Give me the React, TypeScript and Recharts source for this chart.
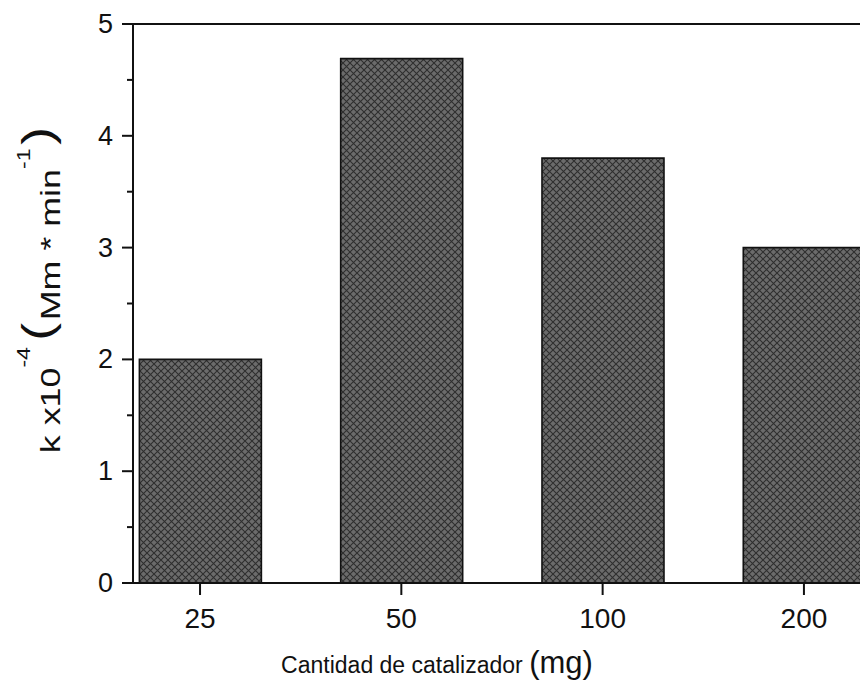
import React from "react";
import { Bar, BarChart, ReferenceLine, XAxis, YAxis } from "recharts";

const categories = ["25", "50", "100", "200"];
const kValues = [2.0, 4.69, 3.8, 3.0];
const yTicks = [0, 0.5, 1, 1.5, 2, 2.5, 3, 3.5, 4, 4.5, 5];

const data = categories.map((c, i) => ({ pos: i + 1, label: c, k: kValues[i] }));

const FONT = "'Liberation Sans', Arial, Helvetica, sans-serif";

function YTick(props: any) {
  const { x, y, payload } = props;
  const major = Number.isInteger(payload.value);
  const len = major ? 11 : 6;
  return (
    <g>
      <line x1={x - len} y1={y} x2={x} y2={y} stroke="#111" strokeWidth={2} />
      {major && (
        <text x={x - 20} y={y + 9} textAnchor="end" fontSize={27} fill="#111" fontFamily={FONT}>
          {payload.value}
        </text>
      )}
    </g>
  );
}

function XTick(props: any) {
  const { x, y, payload } = props;
  return (
    <g>
      <line x1={x} y1={y} x2={x} y2={y + 12} stroke="#111" strokeWidth={2} />
      <text x={x} y={y + 45} textAnchor="middle" fontSize={28} fill="#111" fontFamily={FONT}>
        {categories[payload.value - 1]}
      </text>
    </g>
  );
}

function YLabel() {
  return (
    <text
      transform="translate(60,290) rotate(-90) scale(1.28,1)"
      textAnchor="middle"
      fontSize={28}
      fill="#111"
      fontFamily={FONT}
    >
      <tspan>k x10</tspan>
      <tspan fontSize={18} dy={-30}>-4</tspan>
      <tspan fontSize={42} dx={5} dy={22}>(</tspan>
      <tspan fontSize={28} dx={2} dy={8}>Mm * min</tspan>
      <tspan fontSize={18} dy={-30}>-1</tspan>
      <tspan fontSize={42} dx={3} dy={22}>)</tspan>
    </text>
  );
}

function XLabel() {
  return (
    <text x={437} y={673} textAnchor="middle" fill="#111" fontFamily={FONT}>
      <tspan fontSize={23}>Cantidad de catalizador </tspan>
      <tspan fontSize={31}>(mg)</tspan>
    </text>
  );
}

export default function App() {
  return (
    <div
      style={{
        position: "absolute",
        left: 0,
        top: 0,
        width: 860,
        height: 682,
        overflow: "hidden",
        background: "#fff",
      }}
    >
      <svg width={0} height={0} style={{ position: "absolute" }}>
        <defs>
          <pattern id="hatch" width={7} height={7} patternUnits="userSpaceOnUse">
            <rect width={7} height={7} fill="#6b6b6b" />
            <path d="M0,0 L7,7 M7,0 L0,7" stroke="#2e2e2e" strokeWidth={1.1} />
          </pattern>
        </defs>
      </svg>
      <BarChart
        width={1000}
        height={682}
        data={data}
        margin={{ top: 24, right: 0, bottom: 0, left: 0 }}
      >
        <XAxis
          dataKey="pos"
          type="number"
          domain={[0.667, 4.974]}
          ticks={[1, 2, 3, 4]}
          allowDataOverflow
          height={99}
          axisLine={{ stroke: "#111", strokeWidth: 2 }}
          tickLine={false}
          tickSize={0}
          tickMargin={0}
          tick={<XTick />}
          label={{ content: () => <XLabel /> }}
        />
        <YAxis
          type="number"
          domain={[0, 5]}
          ticks={yTicks}
          interval={0}
          width={133}
          axisLine={{ stroke: "#111", strokeWidth: 2 }}
          tickLine={false}
          tickSize={0}
          tickMargin={0}
          tick={<YTick />}
          label={{ content: () => <YLabel /> }}
        />
        <ReferenceLine y={5} stroke="#111" strokeWidth={2} />
        <Bar
          dataKey="k"
          barSize={122}
          fill="url(#hatch)"
          stroke="#111"
          strokeWidth={1.6}
          isAnimationActive={false}
        />
      </BarChart>
    </div>
  );
}
